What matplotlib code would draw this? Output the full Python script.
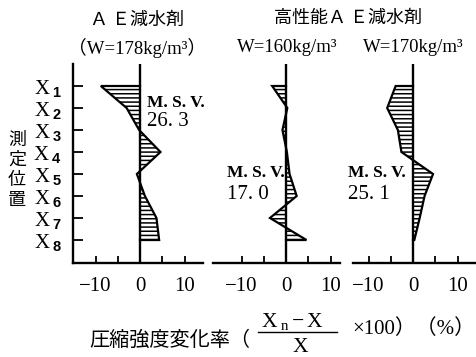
import numpy as np
import matplotlib
matplotlib.use("Agg")
import matplotlib.pyplot as plt
from matplotlib.lines import Line2D

plt.rcParams['font.family'] = ['Liberation Serif', 'Noto Sans CJK JP']
plt.rcParams['mathtext.fontset'] = 'custom'
plt.rcParams['mathtext.rm'] = 'Liberation Serif'
plt.rcParams['mathtext.it'] = 'Liberation Serif:italic'
plt.rcParams['mathtext.bf'] = 'Liberation Sans:bold'
plt.rcParams['hatch.linewidth'] = 1.1

# ---------------- data ----------------
positions = [1, 2, 3, 4, 5, 6, 7, 8]
pos_labels = [r'$\mathrm{X}_{\ \mathbf{%d}}$' % i for i in positions]
ae_178 = [-8.8, -3.0, -0.2, 4.6, -0.7, 1.1, 3.7, 4.3]
hp_160 = [-3.1, 0.3, -0.8, 0.2, 0.8, 2.4, -3.6, 4.6]
hp_170 = [-3.9, -5.8, -3.4, -2.6, 4.5, 2.6, 1.5, 0.3]
series = [ae_178, hp_160, hp_170]
msv_values = ['26. 3', '17. 0', '25. 1']
xticks = [-10, -5, 0, 5, 10]
xticklabels = ['−10', '', '0', '', '10']
subtitles = ['（W=178kg/m³）', 'W=160kg/m³', 'W=170kg/m³']

# ---------------- layout ----------------
W, H = 476, 357
fig = plt.figure(figsize=(W / 100, H / 100), dpi=100)
scale = 4.45           # px per %
zero_px = [140, 286, 413]
xlims = [(-15, 14.2), (-16.4, 12.1), (-13.5, 14.0)]
y_top, y_bot = 64, 263

CJK = ['Noto Sans CJK JP', 'DejaVu Sans']
SER = ['Liberation Serif', 'Noto Sans CJK JP']

def fx(px):
    return px / W

def fy(py):
    return 1 - py / H

msv_pos = [(147, 103, 122), (227, 173, 195), (348, 173, 195)]

for i, vals in enumerate(series):
    x0 = zero_px[i] + xlims[i][0] * scale
    x1 = zero_px[i] + xlims[i][1] * scale
    ax = fig.add_axes([fx(x0), fy(y_bot), (x1 - x0) / W, (y_bot - y_top) / H])
    ax.set_xlim(*xlims[i])
    ax.set_ylim(9.045, 0.0)
    ax.patch.set_alpha(0)
    for s in ['top', 'right']:
        ax.spines[s].set_visible(False)
    ax.spines['bottom'].set_linewidth(1.7)
    if i == 0:
        ax.spines['left'].set_linewidth(1.7)
        ax.set_yticks(positions)
        ax.set_yticklabels(pos_labels, fontsize=15)
        ax.tick_params(axis='y', direction='in', length=7, width=1.3, pad=8)
    else:
        ax.spines['left'].set_visible(False)
        ax.set_yticks([])
    ax.set_xticks(xticks)
    ax.set_xticklabels(xticklabels, fontsize=15)
    ax.tick_params(axis='x', direction='in', length=5, width=1.3, pad=10)
    ax.axvline(0, color='black', lw=1.7)
    ax.fill_betweenx(positions, 0, vals, facecolor='none', edgecolor='black',
                     hatch='----', linewidth=0)
    ax.plot(np.r_[0, vals, 0], np.r_[positions[0], positions, positions[-1]],
            color='black', lw=1.6, solid_joinstyle='miter')
    mx, my1, my2 = msv_pos[i]
    fig.text(fx(mx), fy(my1), 'M. S. V.', fontsize=12.5, fontweight='bold',
             ha='left', va='center', family=SER)
    fig.text(fx(mx), fy(my2), msv_values[i], fontsize=15,
             ha='left', va='center', family=SER)

# titles
fig.text(fx(137), fy(20), 'Ａ Ｅ減水剤', fontsize=13, ha='center', va='center', family=CJK)
fig.text(fx(137), fy(48), subtitles[0], fontsize=13.5, ha='center', va='center', family=SER)
fig.text(fx(348), fy(18), '高性能Ａ Ｅ減水剤', fontsize=13, ha='center', va='center', family=CJK)
fig.text(fx(287), fy(47), subtitles[1], fontsize=13.5, ha='center', va='center', family=SER)
fig.text(fx(413), fy(47), subtitles[2], fontsize=13.5, ha='center', va='center', family=SER)

# vertical y label
fig.text(fx(17), fy(170), '測\n定\n位\n置', fontsize=13, ha='center', va='center',
         family=CJK, linespacing=1.15)

# x label with fraction
fig.text(fx(89), fy(340), '圧縮強度変化率（', fontsize=14.5, ha='left', va='center', family=CJK)
fig.text(fx(292), fy(321), r'$\mathrm{X}_{\ \mathrm{n}}-\mathrm{X}$', fontsize=15.5,
         ha='center', va='center')
fig.add_artist(Line2D([fx(258), fx(337)], [fy(332), fy(332)], color='black', lw=1.0))
fig.text(fx(300), fy(347), 'X', fontsize=15.5, ha='center', va='center', family=SER)
fig.text(fx(352), fy(329), '×100）（%）', fontsize=15, ha='left', va='center', family=SER)

fig.savefig('out.png', dpi=100)
